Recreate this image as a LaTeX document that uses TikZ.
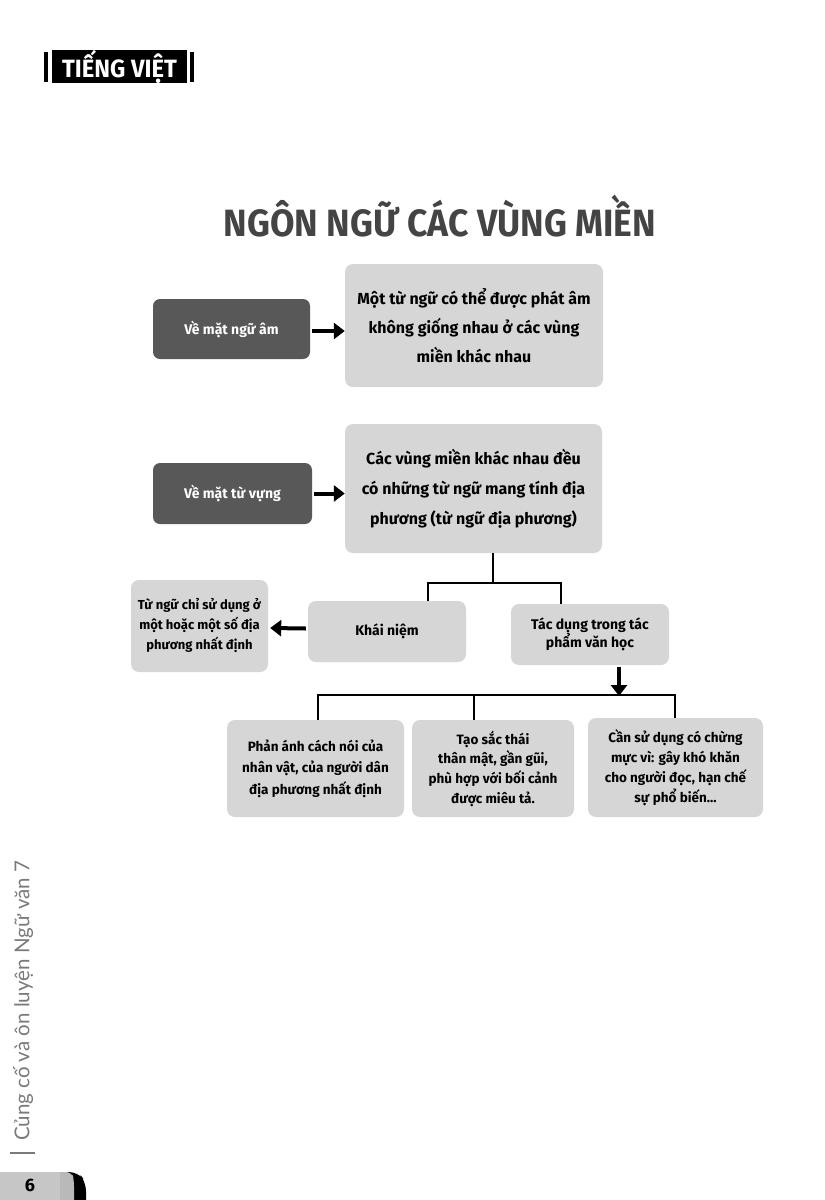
\documentclass[tikz,border=0pt]{standalone}
\usepackage{fontspec}
\setmainfont{Fira Sans}
\newfontfamily\sidefont{Lato}
\usetikzlibrary{arrows.meta,calc}
\definecolor{darkbox}{HTML}{585858}
\definecolor{lightbox}{HTML}{D6D6D6}
\definecolor{titlegray}{HTML}{444444}
\definecolor{sidegray}{HTML}{7A7A7A}
\tikzset{
  darkb/.style={fill=darkbox, rounded corners=7pt, text=white, font=\bfseries\fontsize{14}{18}\selectfont, align=center, inner sep=2pt},
  lightb/.style={fill=lightbox, rounded corners=8pt, text=black, align=center, inner sep=2pt},
  bigarrow/.style={line width=4pt, -{Triangle[length=11pt,width=16pt]}},
  conn/.style={line width=1.6pt, black},
}
\begin{document}
\begin{tikzpicture}[x=1pt,y=-1pt]
\useasboundingbox (0,0) rectangle (825,1200);
\fill[white] (0,0) rectangle (825,1200);
% header
\fill[black] (44,52) rectangle (48,82);
\fill[black] (190,52) rectangle (194,82);
\node[fill=black, minimum width=135pt, minimum height=33pt, inner sep=0pt, text=white, font=\bfseries\fontsize{25}{28}\selectfont] (head) at (119.5,66.5) {\scalebox{0.95}[1]{TIẾNG VIỆT}};
% title
\node[text=titlegray, font=\bfseries\fontsize{38}{40}\selectfont] (title) at (440,216) {\scalebox{0.935}[1]{NGÔN NGỮ CÁC VÙNG MIỀN}};
% row 1
\node[darkb, minimum width=157pt, minimum height=60pt] (b1) at (231.5,329) {Về mặt ngữ âm};
\node[lightb, minimum width=258pt, minimum height=123pt, font=\bfseries\fontsize{16}{29}\selectfont] (big1) at (474,325.5) {Một từ ngữ có thể được phát âm\\không giống nhau ở các vùng\\miền khác nhau};
\draw[bigarrow] (b1.east) ++(2,2) -- ($(b1.east -| big1.west)+(0,2)$);
% row 2
\node[darkb, minimum width=159pt, minimum height=61pt] (b2) at (232.5,493.5) {Về mặt từ vựng};
\node[lightb, minimum width=257pt, minimum height=129pt, font=\bfseries\fontsize{16}{30}\selectfont] (big2) at (473.5,488.5) {Các vùng miền khác nhau đều\\có những từ ngữ mang tính địa\\phương (từ ngữ địa phương)};
\draw[bigarrow] (b2.east) ++(2,0) -- (b2.east -| big2.west);
% row 3
\node[lightb, minimum width=158pt, minimum height=61pt, font=\bfseries\fontsize{14}{18}\selectfont] (kn) at (387,631.5) {Khái niệm};
\node[lightb, minimum width=158pt, minimum height=61pt, font=\bfseries\fontsize{14}{17}\selectfont] (td) at (590,634.5) {Tác dụng trong tác\\phẩm văn học};
\node[lightb, minimum width=137pt, minimum height=92pt, font=\bfseries\fontsize{13}{20}\selectfont] (def) at (199.5,626) {Từ ngữ chỉ sử dụng ở\\một hoặc một số địa\\phương nhất định};
\coordinate (j1) at (493,583);
\coordinate (cl) at (428,583);
\coordinate (cr) at (561,583);
\draw[conn] (j1 |- big2.south) -- (j1);
\draw[conn] (cl |- kn.north) -- (cl) -- (cr) -- (cr |- td.north);
\draw[bigarrow] (kn.west) ++(-2,-3) -- ($(def.east)+(2,2)$);
% row 4
\node[lightb, minimum width=177pt, minimum height=97pt, font=\bfseries\fontsize{13.5}{21.5}\selectfont] (ra) at (315.5,768.5) {Phản ánh cách nói của\\nhân vật, của người dân\\địa phương nhất định};
\node[lightb, minimum width=162pt, minimum height=97pt, font=\bfseries\fontsize{13.5}{19.7}\selectfont] (rb) at (493,768.5) {Tạo sắc thái\\thân mật, gần gũi,\\phù hợp với bối cảnh\\được miêu tả.};
\node[lightb, minimum width=175pt, minimum height=99pt, font=\bfseries\fontsize{13.5}{20}\selectfont] (rc) at (675.5,767.5) {Cần sử dụng có chừng\\mực vì: gây khó khăn\\cho người đọc, hạn chế\\sự phổ biến...};
\coordinate (j2) at (619,695);
\coordinate (dl) at (318,695);
\coordinate (dm) at (474,695);
\coordinate (dr) at (675,695);
\draw[bigarrow] (j2 |- td.south) ++(0,2) -- ($(j2)+(0,1)$);
\draw[conn] (dl |- ra.north) -- (dl) -- (dr) -- (dr |- rc.north);
\draw[conn] (dm) -- (dm |- rb.north);
% side text
\node[rotate=90, anchor=west, text=sidegray, inner sep=0pt, font=\sidefont\fontsize{20.5}{22}\selectfont] (side) at (23,1141) {Củng cố và ôn luyện Ngữ văn 7};
\draw[sidegray, line width=1.2pt] (10,1153) -- (35,1153);
% page tab
\fill[black] (0,1172) [rounded corners=9pt] -- (78,1172) -- (86,1182) [sharp corners] -- (86,1205) -- (0,1205) -- cycle;
\fill[gray!55] (0,1172) [rounded corners=6pt] -- (72,1172) -- (74,1180) [sharp corners] -- (74,1205) -- (0,1205) -- cycle;
\fill[gray!45] (0,1172) rectangle (60,1205);
\node[font=\bfseries\fontsize{18}{20}\selectfont, inner sep=0pt, anchor=north] (pg) at (30,1179) {6};
\end{tikzpicture}
\end{document}
